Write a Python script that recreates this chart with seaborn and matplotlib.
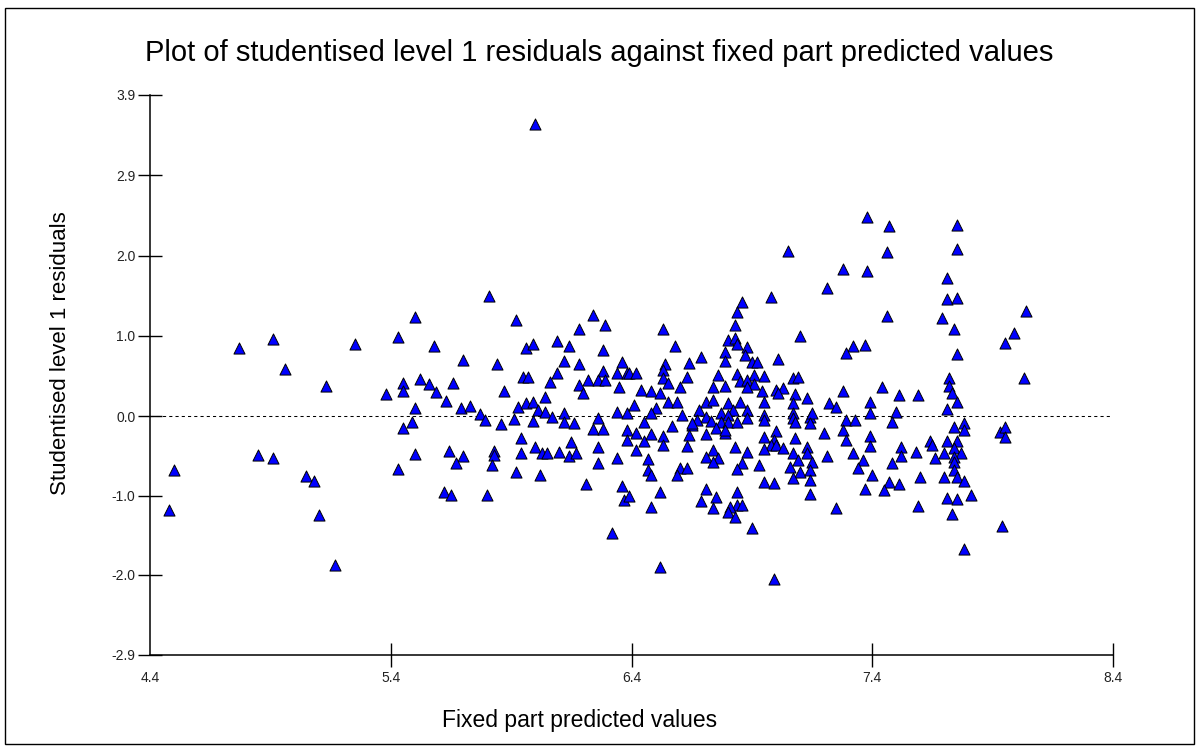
import matplotlib
matplotlib.use("Agg")
import matplotlib.pyplot as plt
import seaborn as sns
import pandas as pd
from matplotlib.patches import Rectangle

sns.set_style("white")
plt.rcParams['font.family'] = ['Liberation Sans', 'DejaVu Sans']
plt.rcParams['text.color'] = 'black'

title = "Plot of studentised level 1 residuals against fixed part predicted values"
x_label = "Fixed part predicted values"
y_label = "Studentised level 1 residuals"

x_ticks = [4.4, 5.4, 6.4, 7.4, 8.4]
x_tick_labels = ['4.4', '5.4', '6.4', '7.4', '8.4']
y_ticks = [-2.9, -1.93, -0.97, 0.0, 0.975, 1.95, 2.925, 3.9]
y_tick_labels = ['-2.9', '-2.0', '-1.0', '0.0', '1.0', '2.0', '2.9', '3.9']

# fixed part predicted values (x) and studentised residuals (y)
predicted = [
    4.50, 4.48, 4.85, 4.91, 5.05, 5.08, 5.10, 5.17, 4.77, 4.91, 4.96, 5.25, 5.13, 5.38,
    6.00, 5.81, 5.50, 5.92, 6.24, 6.29, 6.18, 5.43, 5.58, 5.70, 5.84, 5.96, 5.99, 6.09,
    6.14, 6.28, 6.12, 6.18, 6.36, 6.09, 6.34, 6.38, 6.28,
    5.45, 5.45, 5.52, 5.56, 5.59, 5.66, 5.63, 5.50, 5.49, 5.45, 5.69, 5.73, 5.77, 5.79,
    5.87, 5.86, 5.91, 5.95, 5.97, 6.06, 5.93, 5.96, 5.99, 6.04, 6.01, 6.04, 5.99, 6.07,
    6.12, 6.12, 6.16, 6.18, 6.20, 6.22, 6.26, 6.29, 6.35, 6.26, 6.24, 6.28, 6.34, 6.38,
    6.38, 6.38, 5.94, 6.00, 5.94, 6.03, 6.05, 6.10, 6.14, 6.15, 6.17, 6.26, 6.26, 6.34,
    5.50, 5.43, 5.64, 5.70, 5.67, 5.83, 5.83, 5.82, 5.92, 6.02, 6.21, 6.36, 6.37, 5.62,
    5.65, 5.80, 6.32,
    7.38, 7.05, 7.28, 7.38, 7.21, 6.98, 6.86, 6.84, 6.83, 6.53, 7.10, 6.58, 6.80, 6.83,
    6.84, 6.88, 6.79, 6.87, 6.79, 6.90, 6.92, 6.69, 6.64, 6.54, 6.53, 7.01, 7.32, 7.29,
    7.37, 6.39, 6.42, 6.76, 6.63, 6.84, 6.91, 6.95, 7.07, 7.09,
    7.47, 7.75, 7.46, 7.75, 7.71, 7.71, 7.75, 8.04, 7.46, 7.69, 7.74, 7.99, 7.95, 7.75,
    7.72, 8.03,
    7.44, 7.51, 7.59, 7.39, 7.72, 7.73, 7.75, 7.71, 7.39, 7.50, 7.48, 7.74, 7.78, 7.78,
    7.93, 7.95, 7.95, 7.39, 7.39, 7.52, 7.52, 7.58, 7.64, 7.65, 7.71, 7.75, 7.70, 7.74,
    7.77, 7.74, 7.66, 7.74, 7.36, 7.48, 7.40, 7.60, 7.70, 7.74, 7.75, 7.78, 7.47, 7.51,
    7.37, 7.45, 7.81, 7.71, 7.75, 7.59, 7.73, 7.94, 7.78,
    6.53, 6.55, 6.60, 6.44, 6.48, 6.52, 6.55, 6.59, 6.41, 6.50, 6.45, 6.48, 6.61, 6.42,
    6.45, 6.42, 6.48, 6.53, 6.57, 6.53, 6.65, 6.64, 6.63, 6.47, 6.47, 6.48, 6.60, 6.63,
    6.59, 6.39, 6.52, 6.48, 6.52,
    6.74, 6.79, 6.85, 6.88, 6.91, 6.88, 6.94, 6.95, 6.71, 6.74, 6.80, 6.82, 6.85, 6.68,
    6.71, 6.77, 6.80, 6.67, 6.65, 6.73, 6.77, 6.80, 6.84, 6.88, 6.88, 6.71, 6.75, 6.79,
    6.79, 6.95, 6.95,
    7.00, 7.03, 7.01, 7.08, 7.13, 7.07, 7.07, 7.07, 7.08, 7.14, 7.15, 7.14, 7.22, 7.28,
    7.25, 7.29, 7.33, 7.28, 7.29, 7.20, 7.00, 6.95, 6.99, 6.98, 7.00, 6.95, 7.03, 7.08,
    7.13, 7.07, 7.13, 7.09, 7.15, 7.21, 7.32, 7.34,
    6.83, 6.88, 6.74, 6.71, 6.76, 6.74, 6.86, 6.84, 6.93, 7.06, 7.10, 7.07, 7.14, 7.14,
    6.95, 6.99, 7.14, 7.25, 6.71, 6.69, 6.75, 6.74, 6.84, 6.84, 6.81, 6.80, 6.86, 6.83,
    6.90, 6.99,
]

residuals = [
    -0.66, -1.14, -0.47, -0.51, -0.73, -0.79, -1.20, -1.81, 0.83, 0.94, 0.57, 0.87, 0.36, 0.27,
    3.55, 1.46, 1.20, 1.17, 1.23, 1.11, 1.06, 0.96, 0.85, 0.68, 0.63, 0.83, 0.87, 0.91,
    0.85, 0.80, 0.67, 0.63, 0.66, 0.52, 0.52, 0.52, 0.55,
    0.40, 0.30, 0.45, 0.39, 0.29, 0.40, 0.18, 0.10, -0.07, -0.15, 0.10, 0.12, 0.02, -0.05,
    0.30, -0.10, -0.04, 0.47, 0.47, 0.41, 0.11, 0.16, 0.17, 0.23, 0.07, 0.05, -0.06, -0.01,
    0.04, -0.07, -0.09, 0.38, 0.28, 0.44, 0.44, 0.44, 0.35, -0.02, -0.16, -0.16, 0.05, 0.04,
    -0.17, -0.29, -0.27, -0.38, -0.45, -0.45, -0.45, -0.44, -0.49, -0.32, -0.45, -0.38, -0.57, -0.51,
    -0.46, -0.64, -0.43, -0.49, -0.57, -0.43, -0.47, -0.60, -0.68, -0.72, -0.83, -0.85, -1.02, -0.92,
    -0.96, -0.96, -1.42,
    2.42, 2.00, 1.79, 1.76, 1.56, 1.45, 1.39, 1.26, 1.11, 1.06, 0.97, 0.85, 0.92, 0.95,
    0.87, 0.84, 0.78, 0.74, 0.67, 0.66, 0.66, 0.72, 0.64, 0.63, 0.56, 0.69, 0.85, 0.77,
    0.86, 0.52, 0.52, 0.50, 0.47, 0.51, 0.50, 0.49, 0.46, 0.47,
    2.31, 2.32, 1.99, 2.03, 1.68, 1.42, 1.43, 1.28, 1.22, 1.19, 1.06, 1.01, 0.89, 0.75,
    0.46, 0.46,
    0.35, 0.26, 0.26, 0.17, 0.36, 0.28, 0.17, 0.09, 0.04, 0.05, -0.07, -0.13, -0.09, -0.17,
    -0.19, -0.13, -0.26, -0.24, -0.36, -0.38, -0.49, -0.44, -0.30, -0.35, -0.30, -0.30, -0.45, -0.39,
    -0.45, -0.50, -0.51, -0.56, -0.53, -0.57, -0.72, -0.74, -0.74, -0.66, -0.74, -0.79, -0.80, -0.83,
    -0.89, -0.90, -0.96, -1.00, -1.01, -1.09, -1.19, -1.34, -1.62,
    0.46, 0.40, 0.35, 0.32, 0.30, 0.28, 0.17, 0.17, 0.13, 0.10, -0.07, 0.04, 0.01, -0.21,
    -0.30, -0.41, -0.22, -0.24, -0.12, -0.35, -0.11, -0.23, -0.36, -0.52, -0.66, -0.72, -0.63, -0.63,
    -0.72, -0.97, -0.92, -1.11, -1.83,
    0.35, 0.36, 0.43, 0.44, 0.39, 0.35, 0.30, 0.17, 0.17, 0.19, 0.16, 0.07, 0.17, 0.07,
    -0.01, 0.04, 0.01, -0.05, -0.09, -0.06, -0.07, -0.07, -0.07, 0.07, -0.02, -0.22, -0.15, -0.21,
    -0.17, 0.01, -0.05,
    0.32, 0.34, 0.28, 0.27, 0.22, 0.16, 0.04, -0.02, -0.07, -0.01, 0.04, -0.09, 0.16, 0.30,
    0.11, -0.05, -0.05, -0.17, -0.29, -0.21, -0.18, -0.26, -0.29, -0.35, -0.35, -0.40, -0.39, -0.27,
    -0.38, -0.45, -0.45, -0.53, -0.56, -0.49, -0.45, -0.63,
    -0.38, -0.44, -0.41, -0.50, -0.51, -0.56, -0.57, -0.64, -0.60, -0.62, -0.68, -0.75, -0.66, -0.78,
    -0.80, -0.81, -0.95, -1.12, -0.89, -1.03, -0.98, -1.12, -0.92, -1.08, -1.11, -1.17, -1.08, -1.23,
    -1.36, -1.98,
]

df = pd.DataFrame({'predicted': predicted, 'residual': residuals})

W, H = 1199, 749
fig = plt.figure(figsize=(W / 100, H / 100), dpi=100)
ax = fig.add_axes([150 / W, (H - 654.7) / H, 963 / W, 559.7 / H])

ax.axhline(0, color='black', lw=0.75, dashes=(3, 3), zorder=1)
sns.scatterplot(data=df, x='predicted', y='residual', marker='^', s=64,
                color='#0000ff', edgecolor='black', linewidth=0.7,
                ax=ax, zorder=3, clip_on=False, legend=False)

ax.set_xlim(4.4, 8.4)
ax.set_ylim(-2.9, 3.9)
ax.set_xticks(x_ticks)
ax.set_xticklabels(x_tick_labels)
ax.set_yticks(y_ticks)
ax.set_yticklabels(y_tick_labels)
ax.set_xlabel('')
ax.set_ylabel('')

for side in ['top', 'right']:
    ax.spines[side].set_visible(False)
for side in ['left', 'bottom']:
    ax.spines[side].set_color('black')
    ax.spines[side].set_linewidth(1.1)

ax.tick_params(axis='both', which='major', bottom=True, left=True,
               direction='inout', length=17, width=1.0,
               color='black', labelsize=10, labelcolor='#222222')
ax.tick_params(axis='x', pad=3)
ax.tick_params(axis='y', pad=2)
ax.xaxis.get_major_ticks()[0].tick1line.set_visible(False)

fig.text(0.5, (H - 53) / H, title, ha='center', va='center', fontsize=21,
         color='black')
fig.text(579.5 / W, (H - 720) / H, x_label, ha='center', va='center',
         fontsize=16.5, color='black')
fig.text(61 / W, (H - 353) / H, y_label, ha='center', va='center',
         rotation=90, fontsize=16, color='black')

fig.patches.append(Rectangle((5 / W, 5 / H), 1189 / W, 736 / H,
                             transform=fig.transFigure, fill=False,
                             edgecolor='black', lw=1.0))

fig.savefig('out.png', dpi=100)
